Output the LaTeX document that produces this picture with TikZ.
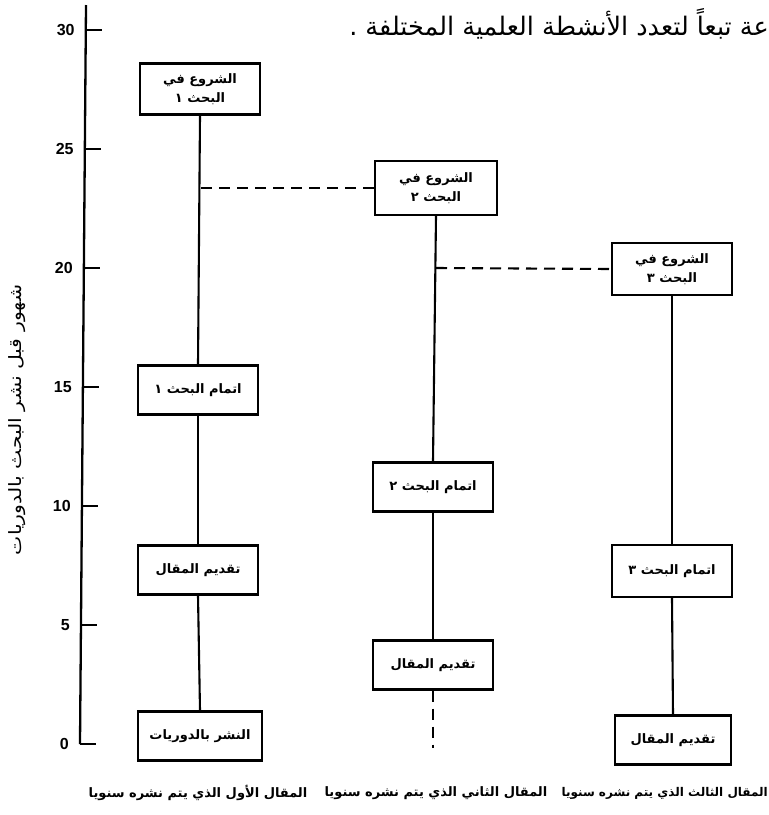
\documentclass[tikz,border=0pt]{standalone}
\usepackage{fontspec}
\setmainfont{DejaVu Sans}
\newfontfamily\arfont[Script=Arabic]{DejaVu Sans}
\newfontfamily\latfont{Liberation Sans}
\TeXXeTstate=1
\newcommand{\rl}[1]{\beginR #1\endR}
\begin{document}
\begin{tikzpicture}[x=1pt,y=-1pt,
  box/.style={draw, line width=2.3pt, fill=white, minimum width=120pt, minimum height=49pt,
    inner sep=2pt, align=center, font=\arfont\bfseries\fontsize{13}{19}\selectfont},
  link/.style={line width=2.1pt},
  dlink/.style={line width=2.1pt, dash pattern=on 11pt off 7pt},
  axisline/.style={line width=2.3pt},
  ticklab/.style={font=\latfont\bfseries\fontsize{16}{18}\selectfont, anchor=east, inner sep=0pt},
  collab/.style={font=\arfont\bfseries\fontsize{13}{16}\selectfont, inner sep=0pt}]
\path[use as bounding box] (0,0) rectangle (769,815);

% title line (cut-off sentence)
\node[font=\arfont\fontsize{25.5}{30}\selectfont, anchor=east, inner sep=0pt] (title) at (769,24)
  {\rl{عة تبعاً لتعدد الأنشطة العلمية المختلفة .}};

% axis
\coordinate (atop) at (86,5);
\coordinate (abot) at (80,744);
\draw[axisline] (atop) -- (abot);
\foreach \v in {0,5,...,30} {
  \coordinate (t\v) at ({86-6*(744-23.8*\v-5)/739}, {744-23.8*\v});
  \draw[axisline] (t\v) -- ++(16,0);
  \node[ticklab] (l\v) at ([xshift=-11pt]t\v) {\v};
}
\node[font=\arfont\fontsize{17}{20}\selectfont, rotate=90, inner sep=0pt] (ylab) at (17,420)
  {\scalebox{1.2}[1]{\rl{شهور قبل نشر البحث بالدوريات}}};

% column 1
\node[box, minimum height=51pt] (b11) at (200,89) {\rl{الشروع في}\\\rl{البحث ١}};
\node[box] (b12) at (198,390) {\rl{اتمام البحث ١}};
\node[box] (b13) at (198,570) {\rl{تقديم المقال}};
\node[box, minimum width=124pt] (b14) at (200,736) {\rl{النشر بالدوريات}};

% column 2
\node[box, minimum width=122pt, minimum height=54pt] (b21) at (436,188) {\rl{الشروع في}\\\rl{البحث ٢}};
\node[box] (b22) at (433,487) {\rl{اتمام البحث ٢}};
\node[box] (b23) at (433,665) {\rl{تقديم المقال}};

% column 3
\node[box, minimum height=52pt] (b31) at (672,269) {\rl{الشروع في}\\\rl{البحث ٣}};
\node[box, minimum height=52pt] (b32) at (672,571) {\rl{اتمام البحث ٣}};
\node[box, minimum width=116pt] (b33) at (673,740) {\rl{تقديم المقال}};

% vertical links
\draw[link] (b11.south) -- (b12.north);
\draw[link] (b12.south) -- (b13.north);
\draw[link] (b13.south) -- (b14.north);
\draw[link] (b21.south) -- (b22.north);
\draw[link] (b22.south) -- (b23.north);
\draw[link] (b31.south) -- (b32.north);
\draw[link] (b32.south) -- (b33.north);

% dashed links
\coordinate (d1) at (201,188);
\coordinate (d2) at (436,268);
\coordinate (e2) at (433,748);
\draw[dlink] (d1) -- (b21.west);
\draw[dlink] (d2) -- (b31.west);
\draw[dlink] (b23.south) -- (e2);

% column labels
\node[collab] (c1) at (198,793) {\rl{المقال الأول الذي يتم نشره سنويا}};
\node[collab] (c2) at (436,793) {\rl{المقال الثاني الذي يتم نشره سنويا}};
\node[collab, font=\arfont\bfseries\fontsize{12}{16}\selectfont, anchor=east] (c3) at (768,793) {\rl{المقال الثالث الذي يتم نشره سنويا}};
\end{tikzpicture}
\end{document}
